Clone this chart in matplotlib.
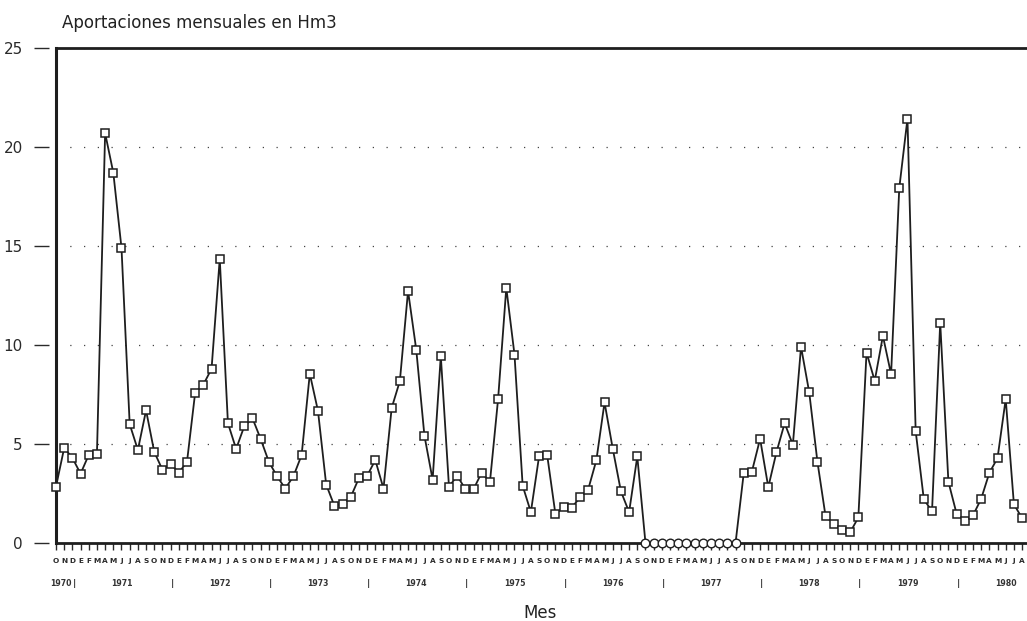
import numpy as np
import matplotlib
matplotlib.use("Agg")
import matplotlib.pyplot as plt
from matplotlib.transforms import blended_transform_factory

plt.rcParams['font.family'] = ['DejaVu Sans']

# Monthly inflows (Hm3), October 1970 - August 1980
month_letters = ["E", "F", "M", "A", "M", "J", "J", "A", "S", "O", "N", "D"]
start_month = 10  # October
start_year = 1970

values = [
    # 1970 O N D
    2.85, 4.8, 4.3,
    # 1971
    3.5, 4.45, 4.5, 20.7, 18.7, 14.9, 6.0, 4.7, 6.7, 4.6, 3.7, 4.0,
    # 1972
    3.55, 4.1, 7.6, 8.0, 8.8, 14.35, 6.05, 4.75, 5.9, 6.3, 5.25, 4.1,
    # 1973
    3.37, 2.75, 3.37, 4.44, 8.55, 6.67, 2.95, 1.88, 1.98, 2.32, 3.28, 3.39,
    # 1974
    4.19, 2.75, 6.82, 8.18, 12.73, 9.77, 5.42, 3.2, 9.45, 2.84, 3.4, 2.72,
    # 1975
    2.72, 3.56, 3.07, 7.28, 12.89, 9.52, 2.89, 1.56, 4.37, 4.42, 1.46, 1.82,
    # 1976
    1.79, 2.3, 2.7, 4.18, 7.1, 4.77, 2.61, 1.56, 4.37, 0, 0, 0,
    # 1977
    0, 0, 0, 0, 0, 0, 0, 0, 0, 3.52, 3.61, 5.26,
    # 1978
    2.82, 4.59, 6.05, 4.96, 9.91, 7.61, 4.11, 1.34, 0.98, 0.68, 0.54, 1.29,
    # 1979
    9.62, 8.19, 10.46, 8.52, 17.93, 21.43, 5.66, 2.2, 1.61, 11.13, 3.09, 1.48,
    # 1980 E..A
    1.11, 1.39, 2.23, 3.54, 4.29, 7.27, 1.96, 1.25,
]
years = list(range(1970, 1981))
y_ticks = [0, 5, 10, 15, 20, 25]

title = "Aportaciones mensuales en Hm3"
xlabel = "Mes"

vals = np.array(values, dtype=float)
n = len(vals)
idx = np.arange(n)
month_of = [(start_month - 1 + i) % 12 for i in range(n)]
year_of = [start_year + (start_month - 1 + i) // 12 for i in range(n)]
tick_lbls = [month_letters[m] for m in month_of]

ink = '#1e1e1e'

fig = plt.figure(figsize=(10.27, 6.21), dpi=100)
ax = fig.add_axes([56 / 1027, 78 / 621, 971 / 1027, 495 / 621])
ax.set_xlim(0, 118.6)
ax.set_ylim(0, 25)

# line and markers
ax.plot(idx, vals, color=ink, lw=1.3, zorder=3, clip_on=False)
nz = vals > 0
ax.plot(idx[nz], vals[nz], ls='none', marker='s', ms=5.4, mfc='white',
        mec=ink, mew=1.1, zorder=4, clip_on=False)
ax.plot(idx[~nz], vals[~nz], ls='none', marker='o', ms=6.2, mfc='white',
        mec=ink, mew=1.0, zorder=4, clip_on=False)

# frame
ax.spines['right'].set_visible(False)
ax.spines['top'].set_linewidth(2.0)
ax.spines['top'].set_color(ink)
ax.spines['bottom'].set_linewidth(2.0)
ax.spines['bottom'].set_color(ink)
ax.spines['left'].set_position(('outward', 5))
ax.spines['left'].set_visible(False)
ax.axvline(0, color=ink, lw=2.2, zorder=2, clip_on=False)

# y axis
ax.set_yticks(y_ticks)
ax.set_yticklabels([str(v) for v in y_ticks], fontsize=11, color='#2a2a2a')
ax.tick_params(axis='y', direction='out', length=11, width=1.0, pad=8,
               color='#2a2a2a')
ax.yaxis.grid(True, linestyle=(0, (1, 10)), color='#444444', lw=0.9)
ax.set_axisbelow(True)

# x axis
ax.set_xticks(idx)
ax.set_xticklabels(tick_lbls, fontsize=5.3, fontweight='bold', color='#2a2a2a')
ax.tick_params(axis='x', direction='out', length=5, width=1.0, pad=6,
               color='#2a2a2a')

# year labels and separators
trans = blended_transform_factory(ax.transData, ax.transAxes)
ylab = -0.081
for yr in years:
    first = year_of.index(yr)
    if yr == start_year:
        ax.text(first + 0.6, ylab, str(yr), transform=trans, ha='center',
                va='center', fontsize=5.6, fontweight='bold', color='#333333')
    else:
        ax.text(first + 5.0, ylab, str(yr), transform=trans, ha='center',
                va='center', fontsize=5.6, fontweight='bold', color='#333333')
    last = max(i for i in range(n) if year_of[i] == yr)
    if month_of[last] == 11:
        ax.text(last + 0.2, ylab, "|", transform=trans, ha='center',
                va='center', fontsize=6.5, fontweight='bold', color='#333333')

fig.text(62 / 1027, 1 - 28 / 621, title, fontsize=12, ha='left',
         va='baseline', color='#222222')
fig.text(540 / 1027, 1 - 613 / 621, xlabel, fontsize=12, ha='center',
         va='center', color='#222222')

fig.savefig("out.png", dpi=100)
